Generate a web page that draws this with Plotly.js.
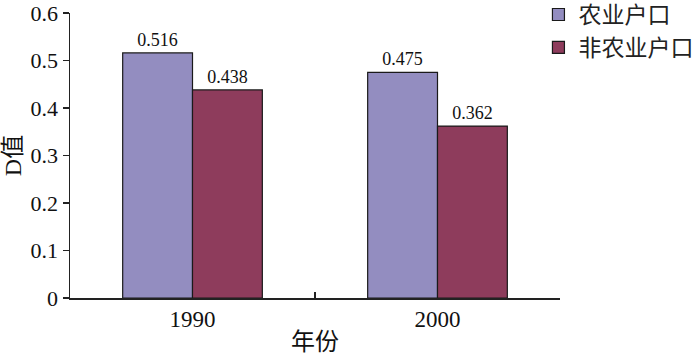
<!DOCTYPE html>
<html>
<head>
<meta charset="utf-8">
<script src="https://cdn.plot.ly/plotly-3.0.1.min.js"></script>
<style>html,body{margin:0;padding:0;background:#fff;}#chart{width:700px;height:359px;}</style>
</head>
<body>
<div id="chart"></div>
<script>
const years = ['1990', '2000'];
const agricultural = [0.516, 0.475];
const nonAgricultural = [0.438, 0.362];
const seriesNames = ['农业户口', '非农业户口'];
const yTicks = [0, 0.1, 0.2, 0.3, 0.4, 0.5, 0.6];
const yTickLabels = ['0', '0.1', '0.2', '0.3', '0.4', '0.5', '0.6'];

const serif = '"Liberation Serif", "Times New Roman", serif';
const cjk = '"Liberation Serif", "Noto Sans CJK SC", serif';

const traces = [
  {
    type: 'bar', x: years, y: agricultural, name: seriesNames[0],
    marker: {color: '#938DC0', line: {color: '#1a1a1a', width: 1.2}},
    text: agricultural.map(v => v.toFixed(3)), textposition: 'outside',
    textfont: {family: serif, size: 18, color: '#111'}, cliponaxis: false,
    legendgroup: 'a'
  },
  {
    type: 'bar', x: years, y: nonAgricultural, name: seriesNames[1],
    marker: {color: '#8E3C5C', line: {color: '#1a1a1a', width: 1.2}},
    text: nonAgricultural.map(v => v.toFixed(3)), textposition: 'outside',
    textfont: {family: serif, size: 18, color: '#111'}, cliponaxis: false,
    legendgroup: 'b'
  }
];

const layout = {
  width: 700, height: 359,
  margin: {l: 70, r: 140, t: 13, b: 61, autoexpand: false},
  paper_bgcolor: '#fff', plot_bgcolor: '#fff',
  barmode: 'group', bargap: 0.43, bargroupgap: 0,
  showlegend: true,
  legend: {
    x: 0.956, y: 1.07, xanchor: 'left', yanchor: 'top',
    font: {family: cjk, size: 23, color: '#222'},
    traceorder: 'grouped', tracegroupgap: 0,
    bgcolor: 'rgba(0,0,0,0)'
  },
  xaxis: {
    type: 'category', range: [-0.5, 1.5],
    tickson: 'boundaries', ticks: 'inside', ticklen: 6, tickwidth: 1.5, tickcolor: '#222',
    showline: true, linecolor: '#222', linewidth: 1.5,
    showgrid: false, zeroline: false,
    tickfont: {family: serif, size: 23, color: '#111'},
    title: {text: '年份', font: {family: cjk, size: 24, color: '#111'}, standoff: 2}
  },
  yaxis: {
    range: [0, 0.6], tickvals: yTicks, ticktext: yTickLabels,
    ticks: 'outside', ticklen: 6, tickwidth: 1.5, tickcolor: '#222',
    showline: true, linecolor: '#222', linewidth: 1.5,
    showgrid: false, zeroline: false,
    tickfont: {family: serif, size: 22, color: '#111'},
    title: {text: 'D值', font: {family: cjk, size: 24, color: '#111'}, standoff: 4}
  }
};

Plotly.newPlot('chart', traces, layout, {displayModeBar: false, staticPlot: true});
</script>
</body>
</html>
